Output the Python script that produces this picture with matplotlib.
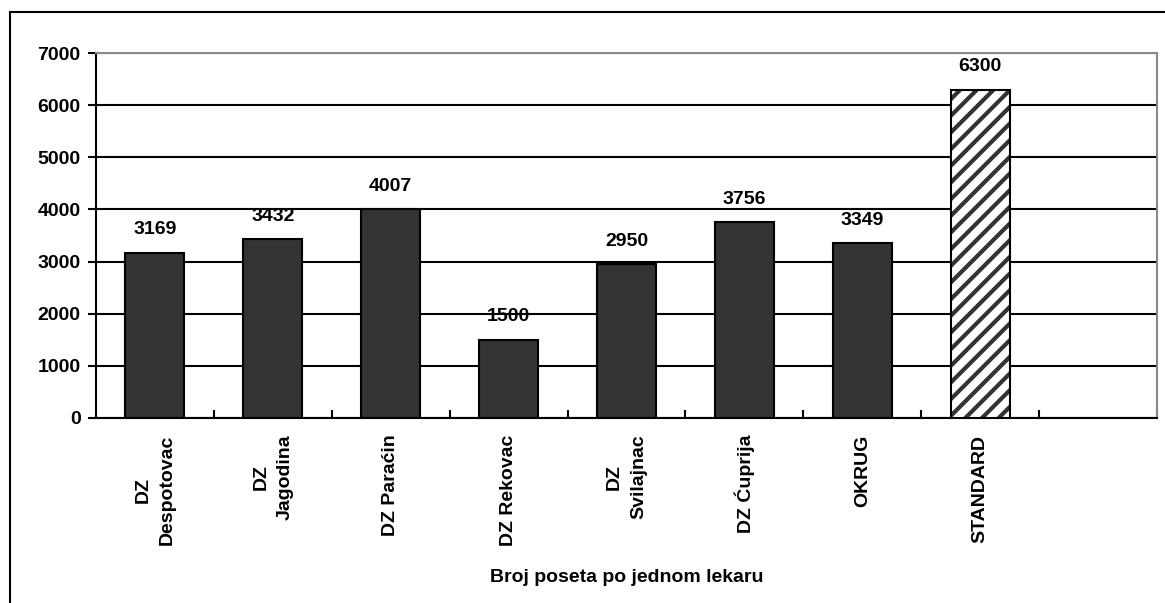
import matplotlib.pyplot as plt
from matplotlib.lines import Line2D

plt.rcParams['font.family'] = ['Liberation Sans', 'DejaVu Sans']
plt.rcParams['font.weight'] = 'bold'
plt.rcParams['hatch.linewidth'] = 3

categories = ['DZ\nDespotovac', 'DZ\nJagodina', 'DZ Paraćin', 'DZ Rekovac',
              'DZ\nSvilajnac', 'DZ Ćuprija', 'OKRUG', 'STANDARD', '']
values = [3169, 3432, 4007, 1500, 2950, 3756, 3349, 6300]
hatched = ['STANDARD']

W, H = 1165, 603
fig = plt.figure(figsize=(W / 100, H / 100), dpi=100)
ax = fig.add_axes([96 / W, 1 - 418 / H, (1157 - 96) / W, (418 - 53) / H])

# outer frame (only top and left edges visible)
fig.add_artist(Line2D([10 / W, 1], [1 - 12 / H, 1 - 12 / H], color='black', lw=1.5))
fig.add_artist(Line2D([10 / W, 10 / W], [0, 1 - 12 / H], color='black', lw=1.5))

fs = 14
x = list(range(len(categories)))
for i, v in enumerate(values):
    if categories[i] in hatched:
        ax.bar(i, v, width=0.5, facecolor='white', edgecolor='#333333',
               hatch='//', linewidth=0, zorder=3)
        ax.bar(i, v, width=0.5, facecolor='none', edgecolor='black',
               linewidth=1.5, zorder=4)
    else:
        ax.bar(i, v, width=0.5, color='#333333', edgecolor='black',
               linewidth=1.5, zorder=3)
    ax.annotate(str(v), (i, v), xytext=(0, 16.5), textcoords='offset points',
                ha='center', va='center', fontsize=fs, fontweight='bold', zorder=5)

ax.set_xlim(-0.5, len(categories) - 0.5)
ax.set_ylim(0, 7000)
ax.set_yticks(range(0, 7001, 1000))
ax.yaxis.grid(True, color='black', linewidth=1.5, zorder=0)
ax.set_axisbelow(True)

ax.set_xticks(x)
ax.set_xticklabels(categories, rotation=90, fontsize=fs, fontweight='bold',
                   ha='center', va='top', multialignment='center', linespacing=1.55)
ax.tick_params(axis='x', length=0, pad=12)
ax.set_xticks([i + 0.5 for i in x], minor=True)
ax.tick_params(axis='x', which='minor', direction='in', length=6, width=1.5)
ax.tick_params(axis='y', direction='out', length=6, width=1.5, labelsize=fs, pad=5)
for lbl in ax.get_yticklabels():
    lbl.set_fontweight('bold')

ax.spines['left'].set_linewidth(1.5)
ax.spines['bottom'].set_linewidth(1.5)
ax.spines['top'].set_color('#888888')
ax.spines['right'].set_color('#888888')
ax.spines['top'].set_linewidth(1.5)
ax.spines['right'].set_linewidth(1.5)

fig.text((96 + 1157) / 2 / W, 1 - 578 / H, 'Broj poseta po jednom lekaru',
         ha='center', va='center', fontsize=fs, fontweight='bold')

plt.savefig('out.png', dpi=100)
